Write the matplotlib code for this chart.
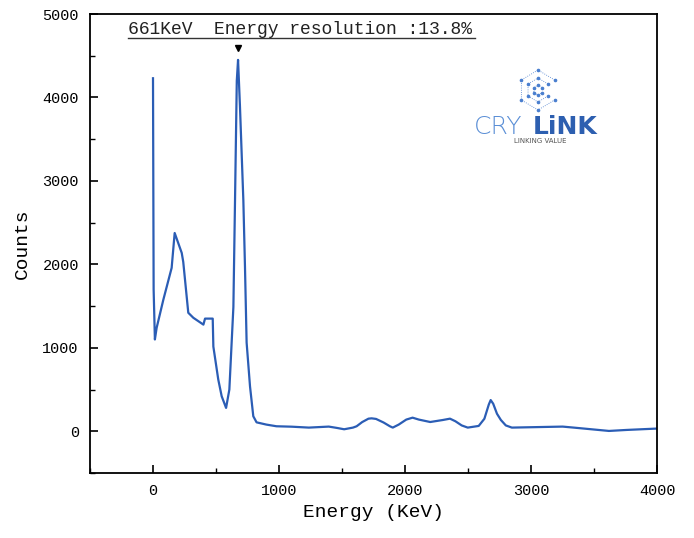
import matplotlib.pyplot as plt
import numpy as np
from matplotlib.ticker import MultipleLocator

# spectrum
energy = [0, 5, 15, 29, 82, 148, 172, 228, 240, 280, 320, 400, 413, 474, 479, 518,
          545, 580, 606, 638, 651, 665, 675, 690, 717, 730, 743, 770, 796, 822, 900,
          980, 1100, 1237, 1395, 1460, 1517, 1587, 1616, 1660, 1710, 1735, 1770,
          1830, 1880, 1903, 1950, 2010, 2060, 2110, 2200, 2300, 2357, 2400, 2450,
          2498, 2585, 2630, 2665, 2680, 2700, 2730, 2761, 2800, 2848, 3251, 3339,
          3619, 3759, 3993, 4000]
counts = [4230, 1700, 1100, 1240, 1576, 1958, 2376, 2137, 2030, 1420, 1360, 1278,
          1350, 1350, 1015, 620, 420, 280, 500, 1490, 2770, 4200, 4450, 3900, 2770,
          1970, 1063, 537, 180, 107, 80, 60, 55, 44, 56, 40, 24, 44, 60, 110, 151,
          155, 148, 105, 60, 44, 80, 140, 163, 140, 111, 135, 151, 120, 70, 44, 64,
          150, 320, 374, 330, 210, 135, 70, 44, 56, 44, 4, 16, 32, 32]

peak_x = 675
peak_y = 4590
title = '661KeV  Energy resolution :13.8%'

mono = 'Liberation Mono'

fig = plt.figure(figsize=(6.94, 5.38), dpi=100)
ax = fig.add_axes([90 / 694, 65 / 538, 567 / 694, 459 / 538])

ax.plot(energy, counts, color='#2b5db5', lw=1.6)
ax.plot([peak_x], [peak_y], marker='v', color='black', ms=5, ls='none')

ax.set_xlim(-500, 4000)
ax.set_ylim(-500, 5000)
ax.xaxis.set_major_locator(MultipleLocator(1000))
ax.xaxis.set_minor_locator(MultipleLocator(500))
ax.yaxis.set_major_locator(MultipleLocator(1000))
ax.yaxis.set_minor_locator(MultipleLocator(500))
ax.tick_params(which='both', direction='in', top=False, right=False)
ax.tick_params(which='major', length=6, width=1.2, labelsize=11, pad=8)
ax.tick_params(which='minor', length=3.5, width=1)
for lab in ax.get_xticklabels() + ax.get_yticklabels():
    lab.set_family(mono)
for s in ax.spines.values():
    s.set_linewidth(1.3)

ax.set_xlabel('Energy (KeV)', fontsize=14, family=mono, labelpad=4)
ax.set_ylabel('Counts', fontsize=14, family=mono, labelpad=8)

# title inside the frame, underlined
fig.text(128 / 694, 1 - 29 / 538, title, fontsize=13, family=mono,
         ha='left', va='center', color='#222222')
fig.add_artist(plt.Line2D([128 / 694, 475 / 694], [1 - 38 / 538, 1 - 38 / 538],
                          color='#333333', lw=1))

# logo
fig.text(474 / 694, 1 - 127 / 538, 'CRY', fontsize=18, color='#5b8fd6',
         family='DejaVu Sans', weight='light', ha='left', va='center')
fig.text(533 / 694, 1 - 127 / 538, 'LiNK', fontsize=18, color='#2d5fb0',
         family='DejaVu Sans', weight='bold', ha='left', va='center')
fig.text(540 / 694, 1 - 141 / 538, 'LINKING VALUE', fontsize=5, color='#555555',
         family='DejaVu Sans', ha='center', va='center')
lax = fig.add_axes([515 / 694, 1 - 114 / 538, 46 / 694, 48 / 538])
ang = np.deg2rad(np.arange(30, 390, 60))
for r in (1.0, 0.6, 0.25):
    lax.plot(r * np.cos(ang), r * np.sin(ang), ls=':', marker='o', ms=1.6,
             color='#4a7fcf', lw=0.6)
lax.set_xlim(-1.2, 1.2)
lax.set_ylim(-1.2, 1.2)
lax.axis('off')

fig.savefig('out.png', dpi=100)
